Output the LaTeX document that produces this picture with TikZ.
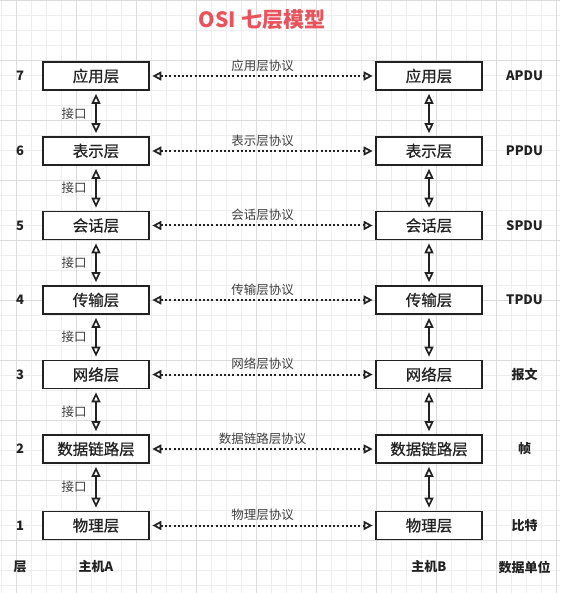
\documentclass[tikz,border=0pt]{standalone}
\usepackage{fontspec}
\setmainfont{Noto Sans CJK SC}
\newfontfamily\boxfont[FakeBold=0.7]{Noto Sans CJK SC}
\usetikzlibrary{arrows.meta}
\definecolor{titlered}{RGB}{234,82,92}
\definecolor{gridminor}{RGB}{238,238,238}
\definecolor{gridmajor}{RGB}{220,220,220}
\definecolor{ink}{RGB}{34,34,34}
\tikzset{
  layerbox/.style={draw=ink, line width=1.7pt, fill=white, minimum width=106pt,
    minimum height=28pt, inner sep=0pt, text=ink, font=\fontsize{15.5}{17}\boxfont},
  protolabel/.style={text=black!75, font=\fontsize{12.5}{14}\selectfont},
  iflabel/.style={text=black!75, font=\fontsize{12.5}{14}\selectfont},
  sidelabel/.style={text=ink, font=\fontsize{13}{15}\selectfont\bfseries},
  protoarrow/.style={draw=ink, line width=2pt, dash pattern=on 2pt off 2.2pt,
    {Triangle[open,length=9pt,width=9pt,line width=1.7pt]}-{Triangle[open,length=9pt,width=9pt,line width=1.7pt]},
    shorten <=2.5pt, shorten >=2.5pt},
  ifarrow/.style={draw=ink, line width=2.2pt,
    {Triangle[open,length=10pt,width=9pt,line width=1.7pt]}-{Triangle[open,length=10pt,width=9pt,line width=1.7pt]},
    shorten <=3pt, shorten >=3pt}
}
\begin{document}
\begin{tikzpicture}[x=1pt,y=-1pt]
\useasboundingbox (0,0) rectangle (560,593);
\fill[white] (0,0) rectangle (560,593);
% grid
\foreach \k in {0,...,37}{
  \pgfmathsetmacro{\gx}{1.7+15*\k}
  \draw[gridminor, line width=0.6pt] (\gx,0) -- (\gx,593);
}
\foreach \k in {0,...,39}{
  \pgfmathsetmacro{\gy}{15*\k}
  \draw[gridminor, line width=0.6pt] (0,\gy) -- (560,\gy);
}
\foreach \k in {0,...,9}{
  \pgfmathsetmacro{\gx}{16.7+60*\k}
  \draw[gridmajor, line width=0.7pt] (\gx,0) -- (\gx,593);
}
\foreach \k in {0,...,9}{
  \pgfmathsetmacro{\gy}{60*\k}
  \draw[gridmajor, line width=0.7pt] (0,\gy) -- (560,\gy);
}
% title
\node[text=titlered, font=\fontsize{21}{24}\selectfont\bfseries] (title) at (262,20) {OSI 七层模型};
% layers
\foreach \n/\y/\name/\proto/\unit in {
  7/76/应用层/应用层协议/APDU,
  6/151/表示层/表示层协议/PPDU,
  5/225.5/会话层/会话层协议/SPDU,
  4/300/传输层/传输层协议/TPDU,
  3/374.5/网络层/网络层协议/报文,
  2/449/数据链路层/数据链路层协议/帧,
  1/525.5/物理层/物理层协议/比特}{
  \node[layerbox] (L\n) at (96,\y) {\name};
  \node[layerbox] (R\n) at (429,\y) {\name};
  \node[sidelabel] (num\n) at (20,\y) {\n};
  \node[sidelabel] (unit\n) at (524.5,\y) {\unit};
  \draw[protoarrow] (L\n) -- (R\n);
  \node[protolabel] (proto\n) at (262.5,\y-10.5) {\proto};
}
% interface arrows
\foreach \a/\b in {7/6,6/5,5/4,4/3,3/2,2/1}{
  \draw[ifarrow] (L\a) -- (L\b);
  \draw[ifarrow] (R\a) -- (R\b);
  \path (L\a.south) -- (L\b.north) node[midway, iflabel, xshift=-22pt] (if\a) {接口};
}
% bottom labels
\node[sidelabel] (hdrlayer) at (20,567) {层};
\node[sidelabel] (hostA) at (96,567) {主机A};
\node[sidelabel] (hostB) at (429,567) {主机B};
\node[sidelabel] (hdrunit) at (524.5,567) {数据单位};
\end{tikzpicture}
\end{document}
